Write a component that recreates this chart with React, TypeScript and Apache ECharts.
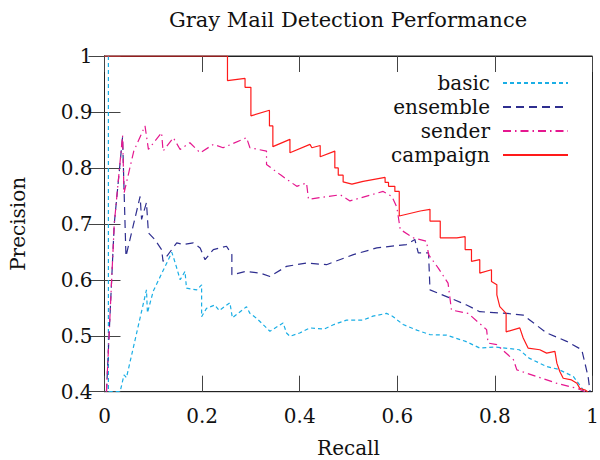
import React, { useEffect, useRef } from "react";
import * as echarts from "echarts";

const TITLE = "Gray Mail Detection Performance";
const X_NAME = "Recall";
const Y_NAME = "Precision";
const SERIES_NAMES = ["basic", "ensemble", "sender", "campaign"];
const SERIES_COLORS = ["#1aaee5", "#2e2e8f", "#e5178f", "#ff1a1a"];

// [recall, precision] pairs
const basic: [number, number][] = [
  [0.008, 1.0], [0.008, 0.4], [0.032, 0.4], [0.04, 0.43], [0.045, 0.425],
  [0.086, 0.582], [0.088, 0.541], [0.1, 0.58], [0.138, 0.649], [0.145, 0.63],
  [0.155, 0.6], [0.165, 0.615], [0.168, 0.585], [0.189, 0.582], [0.199, 0.591],
  [0.199, 0.534], [0.209, 0.549], [0.226, 0.555], [0.235, 0.545], [0.257, 0.559],
  [0.262, 0.532], [0.291, 0.552], [0.298, 0.54], [0.312, 0.531], [0.332, 0.514],
  [0.339, 0.508], [0.366, 0.523], [0.373, 0.505], [0.38, 0.499], [0.4, 0.505],
  [0.421, 0.514], [0.45, 0.512], [0.47, 0.52], [0.496, 0.528], [0.53, 0.528],
  [0.55, 0.535], [0.578, 0.54], [0.59, 0.535], [0.612, 0.52], [0.64, 0.51],
  [0.667, 0.502], [0.701, 0.501], [0.74, 0.49], [0.769, 0.478], [0.8, 0.48],
  [0.85, 0.475], [0.87, 0.46], [0.906, 0.445], [0.93, 0.44], [0.961, 0.427],
  [0.981, 0.403], [0.985, 0.4],
];

const ensemble: [number, number][] = [
  [0.004, 0.4], [0.02, 0.7], [0.037, 0.855], [0.044, 0.642], [0.073, 0.749],
  [0.076, 0.708], [0.086, 0.738], [0.09, 0.684], [0.103, 0.672], [0.117, 0.654],
  [0.12, 0.633], [0.148, 0.666], [0.161, 0.663], [0.182, 0.666], [0.196, 0.657],
  [0.206, 0.636], [0.223, 0.654], [0.25, 0.66], [0.261, 0.645], [0.261, 0.609],
  [0.29, 0.615], [0.319, 0.612], [0.339, 0.606], [0.373, 0.624], [0.414, 0.63],
  [0.455, 0.627], [0.51, 0.645], [0.558, 0.657], [0.619, 0.663], [0.636, 0.672],
  [0.643, 0.648], [0.664, 0.648], [0.667, 0.582], [0.701, 0.57], [0.742, 0.555],
  [0.769, 0.543], [0.824, 0.54], [0.858, 0.537], [0.906, 0.505], [0.947, 0.49],
  [0.978, 0.475], [0.991, 0.427], [0.995, 0.4],
];

const sender: [number, number][] = [
  [0.004, 0.4], [0.02, 0.7], [0.037, 0.858], [0.04, 0.755], [0.06, 0.83],
  [0.083, 0.875], [0.09, 0.833], [0.117, 0.863], [0.12, 0.83], [0.141, 0.854],
  [0.155, 0.833], [0.175, 0.845], [0.196, 0.827], [0.223, 0.842], [0.243, 0.836],
  [0.291, 0.854], [0.298, 0.836], [0.332, 0.83], [0.332, 0.806], [0.36, 0.788],
  [0.394, 0.767], [0.414, 0.773], [0.418, 0.744], [0.483, 0.752], [0.503, 0.741],
  [0.571, 0.758], [0.589, 0.749], [0.599, 0.73], [0.606, 0.69], [0.633, 0.675],
  [0.66, 0.669], [0.664, 0.645], [0.684, 0.621], [0.704, 0.594], [0.711, 0.546],
  [0.745, 0.54], [0.783, 0.511], [0.786, 0.487], [0.804, 0.484], [0.838, 0.457],
  [0.845, 0.439], [0.886, 0.427], [0.927, 0.415], [0.968, 0.406], [0.985, 0.4],
];

const campaign: [number, number][] = [
  [0, 1], [0.252, 1], [0.252, 0.956], [0.288, 0.96], [0.288, 0.944], [0.3, 0.944],
  [0.3, 0.893], [0.338, 0.903], [0.338, 0.875], [0.345, 0.875], [0.345, 0.838],
  [0.38, 0.851], [0.38, 0.827], [0.421, 0.842], [0.425, 0.836], [0.442, 0.84],
  [0.442, 0.82], [0.472, 0.83], [0.472, 0.8], [0.479, 0.8], [0.479, 0.787],
  [0.489, 0.787], [0.489, 0.775], [0.507, 0.771], [0.53, 0.776], [0.575, 0.783],
  [0.575, 0.774], [0.582, 0.774], [0.582, 0.767], [0.595, 0.767], [0.595, 0.758],
  [0.604, 0.758], [0.604, 0.714], [0.647, 0.723], [0.667, 0.726], [0.667, 0.705],
  [0.688, 0.705], [0.688, 0.675], [0.722, 0.675], [0.739, 0.677], [0.739, 0.654],
  [0.752, 0.654], [0.752, 0.633], [0.769, 0.636], [0.769, 0.612], [0.793, 0.618],
  [0.793, 0.597], [0.804, 0.591], [0.804, 0.573], [0.81, 0.552], [0.823, 0.54],
  [0.823, 0.507], [0.851, 0.514], [0.858, 0.496], [0.868, 0.478], [0.892, 0.475],
  [0.906, 0.469], [0.923, 0.472], [0.927, 0.451], [0.933, 0.436], [0.94, 0.424],
  [0.957, 0.421], [0.968, 0.415], [0.974, 0.406], [0.985, 0.403], [0.99, 0.4],
];

const SERIES_DATA = [basic, ensemble, sender, campaign];
const DASHES: (number[] | "solid")[] = [[4, 3], [8, 5], [8, 4, 1.5, 4], "solid"];

const FONT = "DejaVu Serif";
const FS = 20;
const TXT = { fontFamily: FONT, fontSize: FS, fontWeight: "normal" as const, fontStyle: "normal" as const, color: "#111" };

export default function App() {
  const ref = useRef<HTMLDivElement>(null);
  useEffect(() => {
    if (!ref.current) return;
    const chart = echarts.init(ref.current, null, { renderer: "svg" });
    const tickStyle = { color: "#444", width: 1 };
    const frame = { color: "#222", width: 1 };
    chart.setOption({
      animation: false,
      backgroundColor: "#fff",
      textStyle: { fontFamily: FONT },
      title: {
        text: TITLE,
        left: 343,
        top: 4,
        textAlign: "center",
        textStyle: { ...TXT, fontSize: 21 },
      },
      legend: {
        orient: "vertical",
        align: "right",
        right: 31,
        top: 71,
        padding: 0,
        itemWidth: 65,
        itemHeight: 14,
        itemGap: 0,
        itemStyle: { opacity: 0 },
        textStyle: { ...TXT, lineHeight: 24, padding: [0, 8, 0, 0] },
        data: SERIES_NAMES,
      },
      grid: {
        left: 104.5,
        right: 7.5,
        top: 56,
        bottom: 68.3,
        containLabel: false,
        outerBoundsMode: "none",
        show: true,
        borderColor: "#222",
        borderWidth: 1,
      },
      xAxis: [
        {
          type: "value",
          min: 0,
          max: 1,
          interval: 0.2,
          name: X_NAME,
          nameLocation: "middle",
          nameGap: 46,
          nameTextStyle: { ...TXT },
          axisLine: { show: true, lineStyle: frame },
          axisTick: { show: true, inside: true, length: 16, lineStyle: tickStyle },
          axisLabel: { ...TXT, margin: 14 },
          splitLine: { show: false },
        },
        {
          type: "value",
          position: "top",
          min: 0,
          max: 1,
          interval: 0.2,
          axisLine: { show: true, lineStyle: frame },
          axisTick: { show: true, inside: true, length: 16, lineStyle: tickStyle },
          axisLabel: { show: false },
          splitLine: { show: false },
        },
      ],
      yAxis: [
        {
          type: "value",
          min: 0.4,
          max: 1,
          interval: 0.1,
          name: Y_NAME,
          nameLocation: "middle",
          nameGap: 77,
          nameTextStyle: { ...TXT },
          axisLine: { show: true, lineStyle: frame },
          axisTick: { show: true, inside: true, length: 16, lineStyle: tickStyle },
          axisLabel: { ...TXT, margin: 12 },
          splitLine: { show: false },
        },
        {
          type: "value",
          position: "right",
          min: 0.4,
          max: 1,
          interval: 0.1,
          axisLine: { show: true, lineStyle: frame },
          axisTick: { show: true, inside: true, length: 16, lineStyle: tickStyle },
          axisLabel: { show: false },
          splitLine: { show: false },
        },
      ],
      series: SERIES_NAMES.map((name, i) => ({
        name,
        type: "line",
        xAxisIndex: 0,
        yAxisIndex: 0,
        data: SERIES_DATA[i],
        symbol: "none",
        showSymbol: false,
        color: SERIES_COLORS[i],
        lineStyle: { color: SERIES_COLORS[i], width: 1.2, type: DASHES[i] },
        z: 2 + i,
      })),
    });
    return () => chart.dispose();
  }, []);
  return (
    <div
      ref={ref}
      style={{ position: "absolute", left: 0, top: 0, width: 600, height: 460 }}
    />
  );
}
